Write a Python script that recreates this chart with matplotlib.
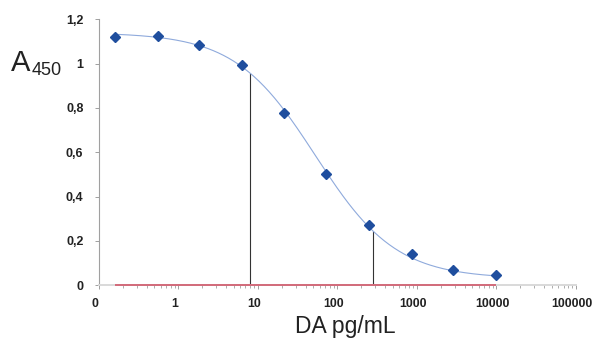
import numpy as np
import matplotlib.pyplot as plt
import matplotlib.transforms as mtransforms
from matplotlib.ticker import LogLocator, NullFormatter, FuncFormatter

# DA standard curve
conc = [0.16, 0.55, 1.84, 6.3, 21.5, 73, 248, 860, 2850, 10000]
absorb = [1.118, 1.125, 1.083, 0.995, 0.775, 0.50, 0.273, 0.139, 0.071, 0.047]

# 4PL fit parameters (top, bottom, EC50, slope), estimated from the drawn curve
fit_top = 1.14
fit_bottom = 0.03
fit_ec50 = 53.1
fit_slope = 0.857

# vertical marker lines (x, height)
vline_x = [8.06, 283]
vline_top = [0.956, 0.244]

xticks = [0.1, 1, 10, 100, 1000, 10000, 100000]
xticklabels = ["0", "1", "10", "100", "1000", "10000", "100000"]
yticks = [0, 0.2, 0.4, 0.6, 0.8, 1.0, 1.2]

plt.rcParams['font.family'] = ['Liberation Sans', 'DejaVu Sans']

fig = plt.figure(figsize=(5.93, 3.38), dpi=100)
ax = fig.add_axes([0.1664, 0.156, 0.8049, 0.787])

xs = np.logspace(np.log10(conc[0]), np.log10(conc[-1]), 300)
ys = fit_bottom + (fit_top - fit_bottom) / (1 + (xs / fit_ec50) ** fit_slope)
ax.plot(xs, ys, color="#8faadc", lw=0.8, zorder=3)

ax.vlines(vline_x, 0, vline_top, color="#333333", lw=0.8, zorder=2)
ax.hlines(0, conc[0], conc[-1], color="#d26a7a", lw=1.4, zorder=4, clip_on=False)

ax.plot(conc, absorb, linestyle="none", marker="D", markersize=4.6,
        color="#1f4e9e", zorder=5, clip_on=False)

ax.set_xscale("log")
ax.set_xlim(0.1, 100000)
ax.set_ylim(0, 1.2)

ax.set_xticks(xticks)
ax.set_xticklabels(xticklabels)
ax.xaxis.set_minor_locator(LogLocator(base=10, subs=np.arange(2, 10)))
ax.xaxis.set_minor_formatter(NullFormatter())
ax.set_yticks(yticks)
ax.yaxis.set_major_formatter(FuncFormatter(lambda v, p: ("%g" % round(v, 1)).replace(".", ",")))

for s in ["top", "right"]:
    ax.spines[s].set_visible(False)
ax.spines["left"].set_color("#a0a0a0")
ax.spines["left"].set_linewidth(0.8)
ax.spines["bottom"].set_color("#d9d9d9")
ax.spines["bottom"].set_linewidth(1.4)

ax.tick_params(axis="x", which="major", direction="out", length=3, width=0.7,
               color="#a0a0a0", pad=6, labelsize=8.8, labelcolor="#222222")
ax.tick_params(axis="x", which="minor", direction="out", length=2, width=0.6, color="#a0a0a0")
ax.tick_params(axis="y", which="major", direction="out", length=3, width=0.7,
               color="#a0a0a0", pad=8, labelsize=9, labelcolor="#222222")
shift = mtransforms.ScaledTranslation(-4 / 100, 0, fig.dpi_scale_trans)
for lbl in ax.get_xticklabels():
    lbl.set_fontweight("bold")
    lbl.set_transform(lbl.get_transform() + shift)
for lbl in ax.get_yticklabels():
    lbl.set_fontweight("bold")

fig.text(345 / 593, 1 - 333.5 / 338, "DA pg/mL", fontsize=16.5, color="#222222",
         ha="center", va="baseline")

fig.text(0.019, 1 - 71 / 338, "A", fontsize=21, color="#222222", ha="left", va="baseline")
fig.text(0.054, 1 - 75 / 338, "450", fontsize=13, color="#222222", ha="left", va="baseline")

fig.savefig("out.png", dpi=100)
